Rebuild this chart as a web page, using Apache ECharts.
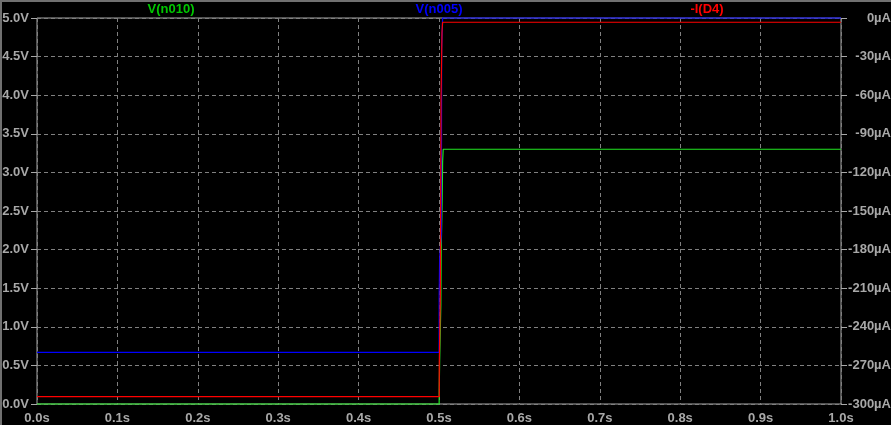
<!DOCTYPE html>
<html>
<head>
<meta charset="utf-8">
<script src="https://cdn.jsdelivr.net/npm/echarts@6/dist/echarts.min.js"></script>
<style>
  html, body { margin: 0; padding: 0; background: #000; }
  #chart { width: 891px; height: 425px; }
</style>
</head>
<body>
<div id="chart"></div>
<script>
// trace names
const names = ['V(n010)', 'V(n005)', '-I(D4)']
// V(n010) : time (s), volts
const tN010 = [0, 0.5002, 0.5002, 0.5008, 0.5008, 0.5017, 0.5017, 0.5023, 0.5023, 0.5027, 0.5027, 0.5033, 0.5033, 0.5039, 0.5039, 0.5045, 0.5045, 0.5052, 0.5052, 1.0]
const vN010 = [0, 0, 0.16, 0.16, 0.55, 0.55, 1.0, 1.0, 1.28, 1.28, 2.0, 2.0, 2.29, 2.29, 2.62, 2.62, 3.14, 3.14, 3.30, 3.30]
// V(n005) : time (s), volts
const tN005 = [0, 0.5002, 0.5002, 0.5008, 0.5008, 0.5029, 0.5029, 0.5033, 0.5033, 0.5045, 0.5045, 1.0]
const vN005 = [0.67, 0.67, 1.4, 1.4, 1.9, 1.9, 2.2, 2.2, 4.6, 4.6, 5.0, 5.0]
// -I(D4) : time (s), microamps
const tD4 = [0, 0.5003, 0.5003, 0.5017, 0.5017, 0.5025, 0.5025, 0.5037, 0.5037, 0.5045, 0.5045, 1.0]
const iD4 = [-294.3, -294.3, -270, -270, -212, -212, -64, -64, -11, -11, -3.3, -3.3]
// axis ticks
const xTicks = [0, 0.1, 0.2, 0.3, 0.4, 0.5, 0.6, 0.7, 0.8, 0.9, 1.0]
const vTicks = [0, 0.5, 1.0, 1.5, 2.0, 2.5, 3.0, 3.5, 4.0, 4.5, 5.0]
const uaTicks = [-300, -270, -240, -210, -180, -150, -120, -90, -60, -30, 0]

const zip = (a, b) => a.map((v, i) => [v, b[i]])
const gray = '#a8a8a8'
const font = { fontFamily: 'Liberation Sans', fontWeight: 'bold', fontSize: 13 }

const chart = echarts.init(document.getElementById('chart'))
const option = {
  backgroundColor: '#000',
  animation: false,
  grid: {
    left: 37, right: 50, top: 18, bottom: 21,
    outerBoundsMode: 'none',
    show: true, borderColor: gray, borderWidth: 1, backgroundColor: '#000'
  },
  graphic: [
    { type: 'rect', shape: { x: 0, y: 0, width: 891, height: 2 }, style: { fill: '#707070' } },
    { type: 'rect', shape: { x: 0, y: 0, width: 2, height: 425 }, style: { fill: '#707070' } },
    { type: 'text', x: 171, y: 9, style: Object.assign({ text: names[0], fill: '#00c800', align: 'center', verticalAlign: 'middle' }, font) },
    { type: 'text', x: 439, y: 9, style: Object.assign({ text: names[1], fill: '#0000ff', align: 'center', verticalAlign: 'middle' }, font) },
    { type: 'text', x: 707, y: 9, style: Object.assign({ text: names[2], fill: '#ff0000', align: 'center', verticalAlign: 'middle' }, font) }
  ],
  xAxis: {
    type: 'value',
    min: xTicks[0], max: xTicks[xTicks.length - 1], interval: 0.1,
    axisLine: { show: false },
    axisTick: { show: false },
    axisLabel: Object.assign({ color: gray, margin: 8, formatter: v => v.toFixed(1) + 's' }, font),
    splitLine: { show: true, lineStyle: { color: '#808080', type: [4, 3], width: 1 } }
  },
  yAxis: [
    {
      type: 'value',
      min: vTicks[0], max: vTicks[vTicks.length - 1], interval: 0.5,
      axisLine: { show: false },
      axisTick: { show: true, length: 6, lineStyle: { color: gray } },
      axisLabel: Object.assign({ color: gray, margin: 8, formatter: v => v.toFixed(1) + 'V' }, font),
      splitLine: { show: true, lineStyle: { color: '#808080', type: [4, 3], width: 1 } }
    },
    {
      type: 'value',
      position: 'right',
      min: uaTicks[0], max: uaTicks[uaTicks.length - 1], interval: 30,
      axisLine: { show: false },
      axisTick: { show: true, length: 6, lineStyle: { color: gray } },
      axisLabel: Object.assign({ color: gray, margin: 50, align: 'right', formatter: v => v + 'µA' }, font),
      splitLine: { show: false }
    }
  ],
  series: [
    {
      name: names[0], type: 'line', yAxisIndex: 0, showSymbol: false, clip: false,
      lineStyle: { color: '#22e822', width: 1.2 }, data: zip(tN010, vN010)
    },
    {
      name: names[1], type: 'line', yAxisIndex: 0, showSymbol: false, clip: false,
      lineStyle: { color: '#0000ff', width: 1.2 }, data: zip(tN005, vN005)
    },
    {
      name: names[2], type: 'line', yAxisIndex: 1, showSymbol: false, clip: false,
      lineStyle: { color: '#ff0000', width: 1.2 }, data: zip(tD4, iD4)
    }
  ]
}
chart.setOption(option)
window.addEventListener('resize', () => {
  chart.resize()
})
</script>
</body>
</html>
